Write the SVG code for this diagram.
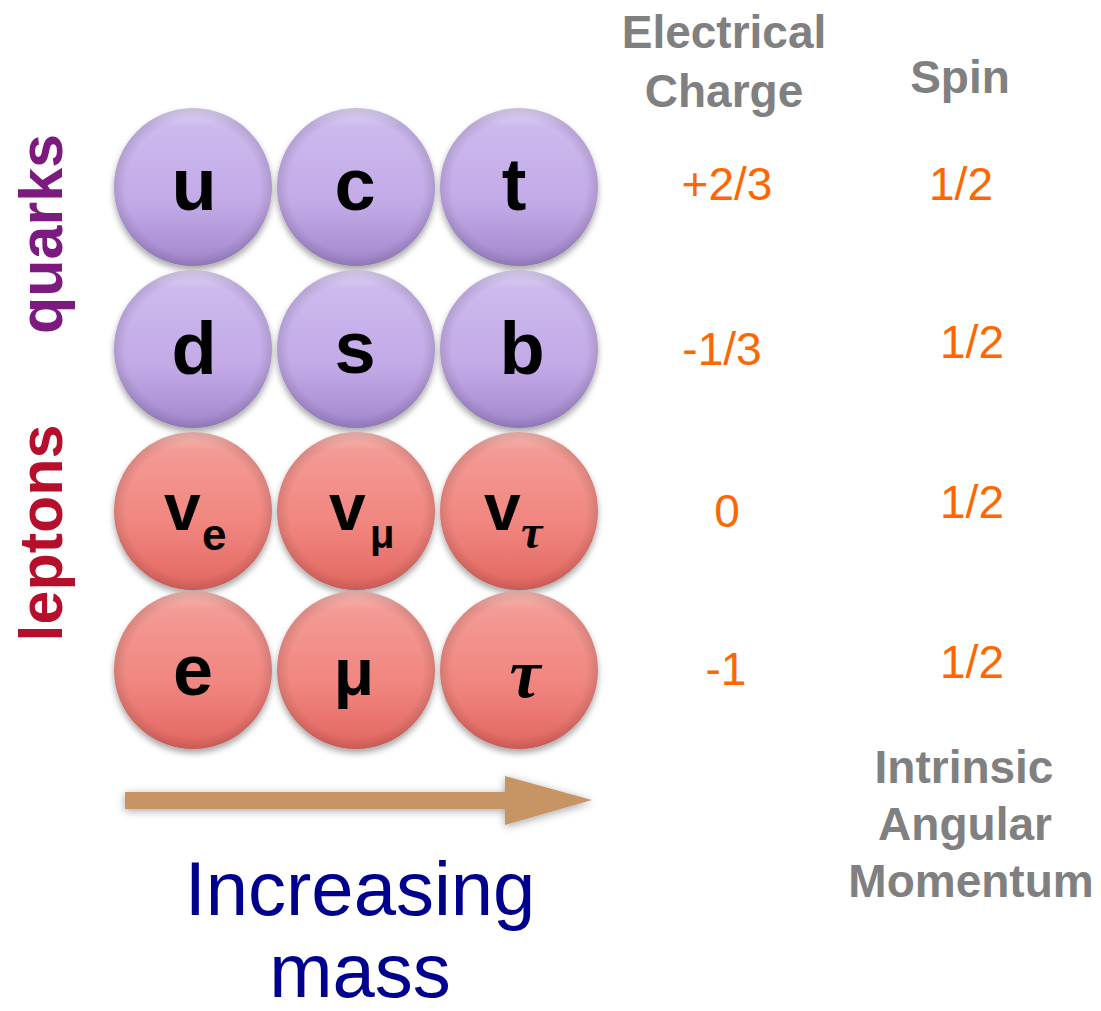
<svg xmlns="http://www.w3.org/2000/svg" width="1101" height="1011" viewBox="0 0 1101 1011">
<defs>
<linearGradient id="gq" x1="0" y1="0" x2="0" y2="1">
<stop offset="0" stop-color="#e2d6f6"/>
<stop offset="0.12" stop-color="#cdb9ee"/>
<stop offset="0.6" stop-color="#c2aae7"/>
<stop offset="1" stop-color="#a386cd"/>
</linearGradient>
<linearGradient id="gl" x1="0" y1="0" x2="0" y2="1">
<stop offset="0" stop-color="#f8bcb6"/>
<stop offset="0.12" stop-color="#f49a94"/>
<stop offset="0.6" stop-color="#f0857e"/>
<stop offset="1" stop-color="#e26660"/>
</linearGradient>
<radialGradient id="edge" cx="0.5" cy="0.5" r="0.5">
<stop offset="0.85" stop-color="#000" stop-opacity="0"/>
<stop offset="1" stop-color="#000" stop-opacity="0.12"/>
</radialGradient>
<filter id="sh" x="-20%" y="-20%" width="140%" height="150%">
<feDropShadow dx="0" dy="4" stdDeviation="3" flood-color="#000" flood-opacity="0.35"/>
</filter>
<filter id="ash" x="-10%" y="-60%" width="120%" height="220%">
<feDropShadow dx="0" dy="2" stdDeviation="4" flood-color="#000" flood-opacity="0.35"/>
</filter>
</defs>
<style>
.q{fill:url(#gq);filter:url(#sh)}
.l{fill:url(#gl);filter:url(#sh)}
.e{fill:url(#edge)}
.p{font-family:"Liberation Sans",Arial,sans-serif;font-weight:bold;fill:#000;text-anchor:middle}
.ps{font-family:"Liberation Sans",Arial,sans-serif;font-weight:bold;fill:#000}
.tau{font-family:"Liberation Serif","Times New Roman",serif;font-weight:bold;font-style:italic;fill:#000}
.hd{font-family:"Liberation Sans",Arial,sans-serif;font-weight:bold;fill:#808080;font-size:46px;text-anchor:middle}
.v{font-family:"Liberation Sans",Arial,sans-serif;fill:#ff6600;font-size:46px;text-anchor:middle}
.side{font-family:"Liberation Sans",Arial,sans-serif;font-weight:bold;font-size:61px;text-anchor:middle}
.mass{font-family:"Liberation Sans",Arial,sans-serif;fill:#00008f;font-size:76px;text-anchor:middle}
</style>
<rect width="1101" height="1011" fill="#fff"/>

<g id="label-quarks"><text class="side" fill="#7d1a80" transform="translate(62,234) rotate(-90)">quarks</text></g>
<g id="label-leptons"><text class="side" fill="#b50f2c" transform="translate(62,533) rotate(-90)">leptons</text></g>

<g id="node-u"><circle class="q" cx="193" cy="187" r="79"/><circle class="e" cx="193" cy="187" r="79"/><text class="p" x="194" y="210" font-size="74">u</text></g>
<g id="node-c"><circle class="q" cx="356" cy="187" r="79"/><circle class="e" cx="356" cy="187" r="79"/><text class="p" x="355" y="210" font-size="74">c</text></g>
<g id="node-t"><circle class="q" cx="519" cy="187" r="79"/><circle class="e" cx="519" cy="187" r="79"/><text class="p" x="514" y="210" font-size="74">t</text></g>

<g id="node-d"><circle class="q" cx="193" cy="349" r="79"/><circle class="e" cx="193" cy="349" r="79"/><text class="p" x="194" y="374" font-size="74">d</text></g>
<g id="node-s"><circle class="q" cx="356" cy="349" r="79"/><circle class="e" cx="356" cy="349" r="79"/><text class="p" x="355" y="373" font-size="74">s</text></g>
<g id="node-b"><circle class="q" cx="519" cy="349" r="79"/><circle class="e" cx="519" cy="349" r="79"/><text class="p" x="522" y="374" font-size="74">b</text></g>

<g id="node-ve"><circle class="l" cx="193" cy="511" r="79"/><circle class="e" cx="193" cy="511" r="79"/><text class="ps" x="164" y="530" font-size="66">v</text><text class="ps" x="202" y="550" font-size="44">e</text></g>
<g id="node-vmu"><circle class="l" cx="356" cy="511" r="79"/><circle class="e" cx="356" cy="511" r="79"/><text class="ps" x="329" y="530" font-size="66">v</text><text class="ps" x="370" y="548" font-size="40">μ</text></g>
<g id="node-vtau"><circle class="l" cx="519" cy="511" r="79"/><circle class="e" cx="519" cy="511" r="79"/><text class="ps" x="484" y="530" font-size="66">v</text><text class="tau" x="521" y="548" font-size="48">τ</text></g>

<g id="node-e"><circle class="l" cx="193" cy="670" r="79"/><circle class="e" cx="193" cy="670" r="79"/><text class="p" x="193" y="695" font-size="72">e</text></g>
<g id="node-mu"><circle class="l" cx="356" cy="670" r="79"/><circle class="e" cx="356" cy="670" r="79"/><text class="p" x="354" y="695" font-size="66">μ</text></g>
<g id="node-tau"><circle class="l" cx="519" cy="670" r="79"/><circle class="e" cx="519" cy="670" r="79"/><text class="tau" x="525" y="697" font-size="70" text-anchor="middle">τ</text></g>

<g id="connectors">
<polygon points="125,792 505,792 505,776 592,800 505,825 505,809 125,809" fill="#c69564" filter="url(#ash)"/>
</g>

<g id="label-mass">
<text class="mass" x="360" y="915">Increasing</text>
<text class="mass" x="360" y="997">mass</text>
</g>

<g id="header-charge">
<text class="hd" x="724" y="48">Electrical</text>
<text class="hd" x="724" y="107">Charge</text>
</g>
<g id="header-spin"><text class="hd" x="960" y="93">Spin</text></g>

<g id="values">
<text class="v" x="727" y="200">+2/3</text>
<text class="v" x="961" y="200">1/2</text>
<text class="v" x="722" y="365">-1/3</text>
<text class="v" x="972" y="358">1/2</text>
<text class="v" x="727" y="527">0</text>
<text class="v" x="972" y="518">1/2</text>
<text class="v" x="726" y="685">-1</text>
<text class="v" x="972" y="678">1/2</text>
</g>

<g id="footer-spin">
<text class="hd" x="964" y="783">Intrinsic</text>
<text class="hd" x="965" y="840">Angular</text>
<text class="hd" x="971" y="897">Momentum</text>
</g>
</svg>
